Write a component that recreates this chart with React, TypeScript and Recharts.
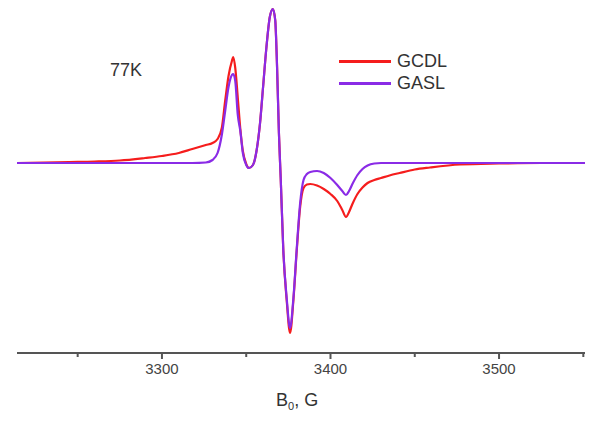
import { LineChart, Line, XAxis, YAxis } from 'recharts';

// magnetic field, G
const fieldG = [
  3214, 3230, 3245, 3260, 3275, 3290, 3300, 3310, 3318, 3326, 3330, 3333, 3335.5, 3337.5, 3339.5, 3341.5,
  3342.3, 3343.5, 3345, 3346.5, 3348, 3350, 3351.6, 3354, 3356.2, 3358.2, 3360, 3362, 3364, 3365.8,
  3367.2, 3368.3, 3369.4, 3370.5, 3372, 3374, 3376, 3378, 3380, 3382, 3384, 3386, 3388, 3392, 3396,
  3400, 3404, 3407, 3409.2, 3411, 3413, 3416, 3419, 3422, 3426, 3430, 3435, 3441, 3450, 3459, 3477,
  3500, 3525, 3551,
];

// EPR signal, arbitrary units
const gcdl = [
  0, 0.5, 1, 1.5, 2.5, 5, 7, 10, 14, 18, 20, 24, 35, 62, 87, 102,
  106, 95, 65, 34, 12, -1, -5, -2, 13, 40, 76, 116, 146, 154,
  143, 96, 30, -17, -87, -137, -170, -137, -87, -44, -25, -21.5, -21, -22.5, -26,
  -31, -38, -47, -54, -49, -41, -31, -24.5, -20, -17, -15, -12.5, -10, -6.5, -4.5, -1.5,
  -0.5, 0, 0,
];

const gasl = [
  0, 0, 0, 0, 0, 0, 0, 0, 0, 0.5, 3, 10, 28, 52, 76, 88,
  89, 82, 48, 32, 10, -2, -5, -2, 13, 40, 76, 116, 146, 154,
  143, 96, 30, -17, -87, -135, -165, -135, -85, -40, -17, -11, -9, -8, -10,
  -15, -22, -28, -32, -28, -21, -12, -6, -2.5, -0.5, 0, 0, 0, 0, 0, 0,
  0, 0, 0,
];

const majorTicks = [3300, 3400, 3500];
const allTicks = [3250, 3300, 3350, 3400, 3450, 3500, 3550];

const data = fieldG.map((f, i) => ({ field: f, GCDL: gcdl[i], GASL: gasl[i] }));

const RED = '#f51d1d';
const PURPLE = '#8a2be6';
const FONT = '"Liberation Sans", Arial, sans-serif';

const AxisTick = (props: any) => {
  const { x, y, payload } = props;
  const major = majorTicks.includes(payload.value);
  return (
    <g>
      <line x1={x} x2={x} y1={y} y2={y + (major ? 6 : 4)} stroke="#555" strokeWidth={2} />
      {major && (
        <text x={x} y={y + 21} textAnchor="middle" fontSize={15} fill="#444" fontFamily={FONT}>
          {payload.value}
        </text>
      )}
    </g>
  );
};

export default function App() {
  return (
    <div style={{ position: 'absolute', left: 0, top: 0, width: 601, height: 425, background: '#fff', fontFamily: FONT }}>
      <LineChart width={601} height={425} data={data} margin={{ top: 5, right: 16, bottom: 32, left: 17 }}>
        <XAxis
          dataKey="field"
          type="number"
          domain={[3214, 3551]}
          ticks={allTicks}
          allowDataOverflow
          tickSize={0}
          tickMargin={0}
          tickLine={false}
          height={40}
          axisLine={{ stroke: '#555', strokeWidth: 2 }}
          tick={<AxisTick />}
        />
        <YAxis hide domain={[-190, 158]} allowDataOverflow />
        <Line type="monotone" dataKey="GCDL" stroke={RED} strokeWidth={2.2} dot={false} isAnimationActive={false} />
        <Line type="monotone" dataKey="GASL" stroke={PURPLE} strokeWidth={2.2} dot={false} isAnimationActive={false} />
      </LineChart>

      <div style={{ position: 'absolute', left: 110, top: 60, fontSize: 18, lineHeight: '20px', color: '#333' }}>77K</div>

      <div style={{ position: 'absolute', left: 339, top: 60, width: 52, height: 2.5, background: RED }} />
      <div style={{ position: 'absolute', left: 397, top: 51, fontSize: 18, lineHeight: '20px', color: '#333' }}>GCDL</div>
      <div style={{ position: 'absolute', left: 339, top: 82, width: 52, height: 2.5, background: PURPLE }} />
      <div style={{ position: 'absolute', left: 397, top: 73, fontSize: 18, lineHeight: '20px', color: '#333' }}>GASL</div>

      <div style={{ position: 'absolute', left: 276, top: 390, fontSize: 18, lineHeight: '20px', color: '#333' }}>
        B<sub style={{ fontSize: 11, verticalAlign: -4 }}>0</sub>, G
      </div>
    </div>
  );
}
